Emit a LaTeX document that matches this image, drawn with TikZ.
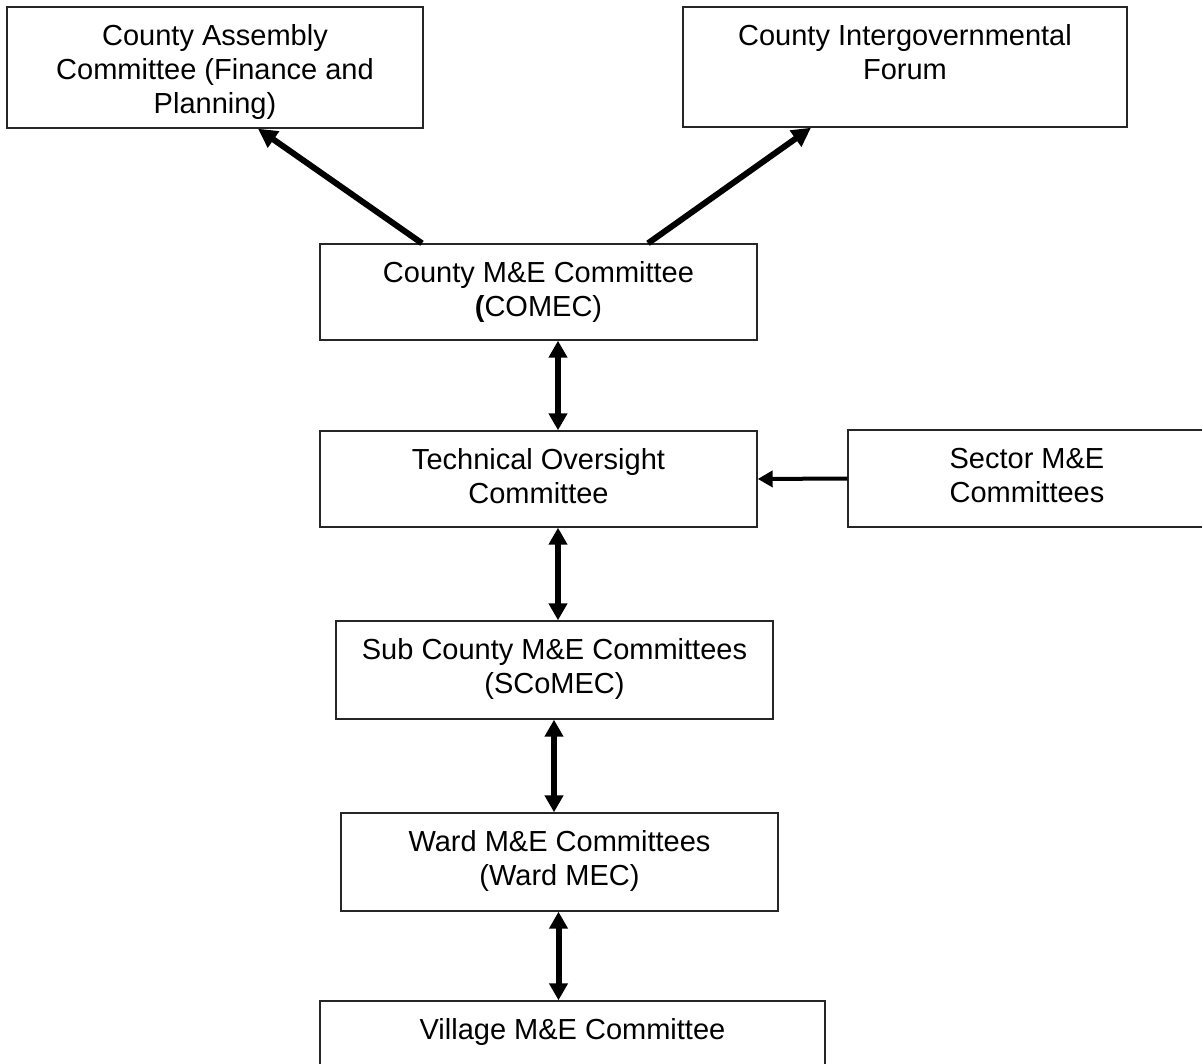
\documentclass[tikz,border=0pt]{standalone}
\usepackage{fontspec}
\setmainfont{Liberation Sans}
\usetikzlibrary{arrows.meta}
\begin{document}
\begin{tikzpicture}[x=1pt,y=-1pt,
  box/.style={draw=black!85, line width=1.4pt, rectangle, inner sep=0pt},
  lbl/.style={anchor=base, align=center, font=\fontsize{29}{34}\selectfont, inner sep=0pt},
  bigarrow/.style={line width=6pt, -{Triangle[length=19pt,width=19pt]}},
  dblarrow/.style={line width=6pt, {Triangle[length=17pt,width=18pt]}-{Triangle[length=17pt,width=18pt]}},
  sidearrow/.style={line width=4pt, -{Triangle[length=15pt,width=16pt]}}]
\useasboundingbox (0,0) rectangle (1202,1064);
\fill[white] (0,0) rectangle (1202,1064);
% boxes
\node[box, minimum width=416pt, minimum height=121pt] (ca) at (215,67.5) {};
\node[box, minimum width=444pt, minimum height=120pt] (cif) at (905,67) {};
\node[box, minimum width=437pt, minimum height=96pt] (cm) at (538.5,292) {};
\node[box, minimum width=437pt, minimum height=96pt] (tech) at (538.5,479) {};
\node[box, minimum width=358pt, minimum height=97pt] (sector) at (1027,478.5) {};
\node[box, minimum width=437pt, minimum height=98pt] (sub) at (554.5,670) {};
\node[box, minimum width=437pt, minimum height=98pt] (ward) at (559.5,862) {};
\node[box, minimum width=505pt, minimum height=100pt] (vil) at (572.5,1051) {};
% labels (anchor=base is the last line's baseline)
\node[lbl] (caT) at ([yshift=-107pt]ca.north) {County Assembly\\Committee (Finance and\\Planning)};
\node[lbl] (cifT) at ([yshift=-73pt]cif.north) {County Intergovernmental\\Forum};
\node[lbl] (cmT) at ([yshift=-73pt]cm.north) {County M\&E Committee\\\textbf{(}COMEC)};
\node[lbl] (techT) at ([yshift=-73pt]tech.north) {Technical Oversight\\Committee};
\node[lbl] (sectorT) at ([yshift=-73pt]sector.north) {Sector M\&E\\Committees};
\node[lbl] (subT) at ([yshift=-73pt]sub.north) {Sub County M\&E Committees\\(SCoMEC)};
\node[lbl] (wardT) at ([yshift=-73pt]ward.north) {Ward M\&E Committees\\(Ward MEC)};
\node[lbl] (vilT) at ([yshift=-39pt]vil.north) {Village M\&E Committee};
% connectors
\draw[bigarrow] ([xshift=-116.5pt]cm.north) -- ([xshift=43pt]ca.south);
\draw[bigarrow] ([xshift=109.5pt]cm.north) -- ([xshift=-94pt]cif.south);
\draw[dblarrow] ([xshift=19.5pt]cm.south) -- ([xshift=19.5pt]tech.north);
\draw[dblarrow] ([xshift=19.5pt]tech.south) -- ([xshift=3.5pt]sub.north);
\draw[dblarrow] ([xshift=-0.5pt]sub.south) -- ([xshift=-5.5pt]ward.north);
\draw[dblarrow] ([xshift=-1pt]ward.south) -- ([xshift=-14pt]vil.north);
\draw[sidearrow] (sector.west) -- (tech.east);
\end{tikzpicture}
\end{document}
